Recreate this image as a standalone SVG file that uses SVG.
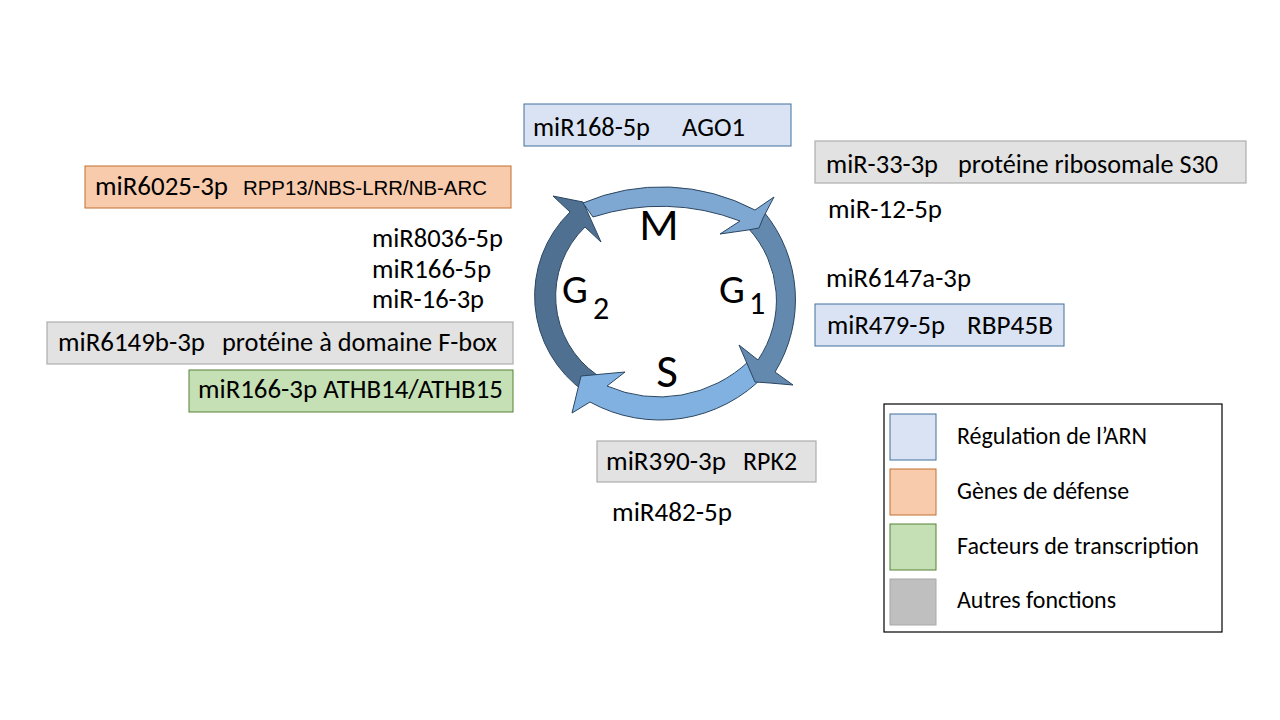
<svg xmlns="http://www.w3.org/2000/svg" width="1280" height="720" viewBox="0 0 1280 720">
<style>
.t{font-family:Carlito,Lato,"Open Sans",sans-serif;font-size:26.7px;fill:#000}
.a{font-family:"Liberation Sans",Arial,sans-serif;font-size:20px;fill:#000}
.lg{font-size:23.6px}
.m{font-size:46px}
.s{font-size:47px}
.g{font-size:41px}
.sub{font-size:32px}
.blue{fill:#DAE3F3;stroke:#41719C;stroke-width:1}
.orange{fill:#F8CBAD;stroke:#C0702E;stroke-width:1}
.green{fill:#C5E0B4;stroke:#548235;stroke-width:1}
.grey{fill:#E2E2E2;stroke:#ADADAD;stroke-width:1.2}
.greysw{fill:#BFBFBF;stroke:#A8A8A8;stroke-width:1}
.arc{stroke:#2B4661;stroke-width:1;stroke-linejoin:miter}
</style>
<rect width="1280" height="720" fill="#FFFFFF"/>

<g id="cycle">
<path class="arc" fill="#4F7090" d="M585,392 A117,117 0 0 1 570,212 L553,196 L583,202 L601,242 L585,227 A96,96 0 0 0 597,375 Z"/>
<path class="arc" fill="#80B1E0" d="M765,375 A145,145 0 0 1 590,402 L572,413 L581,376 L625,372 L607,386 A130,130 0 0 0 749,361 Z"/>
<path class="arc" fill="#6489AE" d="M764,212 A138,138 0 0 1 775,372 L793,385 L770,383 L755,382 L739,345 L758,360 A106,106 0 0 0 748,228 Z"/>
<path class="arc" fill="#7EA7D1" d="M583,203 A200,200 0 0 1 755,210 L774,197 L763,218 L759,228 L748,230 L720,234 L740,221 A220,220 0 0 0 593,217 Z"/>
<text class="t m" x="659" y="240" text-anchor="middle">M</text>
<text class="t g" x="719" y="303">G</text>
<text class="t sub" x="749" y="314">1</text>
<text class="t g" x="562" y="303">G</text>
<text class="t sub" x="593" y="319">2</text>
<text class="t s" x="667" y="387" text-anchor="middle">S</text>
</g>

<g id="connectors"></g>

<g id="n-mir168">
<rect class="blue" x="524" y="104" width="267" height="42"/>
<text class="t" x="533" y="136" textLength="117" lengthAdjust="spacingAndGlyphs">miR168-5p</text>
<text class="t" x="682" y="136" textLength="63" lengthAdjust="spacingAndGlyphs">AGO1</text>
</g>

<g id="n-mir6025">
<rect class="orange" x="85" y="166" width="426" height="42"/>
<text class="t" x="95" y="195" textLength="133" lengthAdjust="spacingAndGlyphs">miR6025-3p</text>
<text class="a" x="243" y="195" textLength="244" lengthAdjust="spacingAndGlyphs">RPP13/NBS-LRR/NB-ARC</text>
</g>

<g id="n-mir8036">
<text class="t" x="372" y="247" textLength="131" lengthAdjust="spacingAndGlyphs">miR8036-5p</text>
</g>
<g id="n-mir166-5p">
<text class="t" x="372" y="278" textLength="119" lengthAdjust="spacingAndGlyphs">miR166-5p</text>
</g>
<g id="n-mir16">
<text class="t" x="372" y="308" textLength="112" lengthAdjust="spacingAndGlyphs">miR-16-3p</text>
</g>

<g id="n-mir6149b">
<rect class="grey" x="47" y="322" width="466" height="42"/>
<text class="t" x="58" y="351" textLength="147" lengthAdjust="spacingAndGlyphs">miR6149b-3p</text>
<text class="t" x="222" y="351" textLength="275" lengthAdjust="spacingAndGlyphs">protéine à domaine F-box</text>
</g>

<g id="n-mir166-3p">
<rect class="green" x="189" y="370" width="324" height="42"/>
<text class="t" x="198" y="398" textLength="305" lengthAdjust="spacingAndGlyphs">miR166-3p ATHB14/ATHB15</text>
</g>

<g id="n-mir33">
<rect class="grey" x="815" y="141" width="431" height="42"/>
<text class="t" x="826" y="173" textLength="112" lengthAdjust="spacingAndGlyphs">miR-33-3p</text>
<text class="t" x="958" y="173" textLength="260" lengthAdjust="spacingAndGlyphs">protéine ribosomale S30</text>
</g>

<g id="n-mir12">
<text class="t" x="828" y="218" textLength="114" lengthAdjust="spacingAndGlyphs">miR-12-5p</text>
</g>

<g id="n-mir6147a">
<text class="t" x="826" y="287" textLength="145" lengthAdjust="spacingAndGlyphs">miR6147a-3p</text>
</g>

<g id="n-mir479">
<rect class="blue" x="815" y="304" width="249" height="42"/>
<text class="t" x="827" y="334" textLength="118" lengthAdjust="spacingAndGlyphs">miR479-5p</text>
<text class="t" x="967" y="334" textLength="86" lengthAdjust="spacingAndGlyphs">RBP45B</text>
</g>

<g id="n-mir390">
<rect class="grey" x="597" y="441" width="219" height="41"/>
<text class="t" x="606" y="470" textLength="120" lengthAdjust="spacingAndGlyphs">miR390-3p</text>
<text class="t" x="743" y="470" textLength="54" lengthAdjust="spacingAndGlyphs">RPK2</text>
</g>

<g id="n-mir482">
<text class="t" x="612" y="521" textLength="120" lengthAdjust="spacingAndGlyphs">miR482-5p</text>
</g>

<g id="legend">
<rect x="884" y="404" width="338" height="228" fill="#FFFFFF" stroke="#000000" stroke-width="1.2"/>
<rect class="blue" x="890" y="414" width="46" height="46"/>
<rect class="orange" x="890" y="469" width="46" height="46"/>
<rect class="green" x="890" y="524" width="46" height="46"/>
<rect class="greysw" x="890" y="579" width="46" height="46"/>
<text class="t lg" x="957" y="444" textLength="190" lengthAdjust="spacingAndGlyphs">Régulation de l’ARN</text>
<text class="t lg" x="957" y="499" textLength="172" lengthAdjust="spacingAndGlyphs">Gènes de défense</text>
<text class="t lg" x="957" y="554" textLength="242" lengthAdjust="spacingAndGlyphs">Facteurs de transcription</text>
<text class="t lg" x="957" y="608" textLength="159" lengthAdjust="spacingAndGlyphs">Autres fonctions</text>
</g>
</svg>
